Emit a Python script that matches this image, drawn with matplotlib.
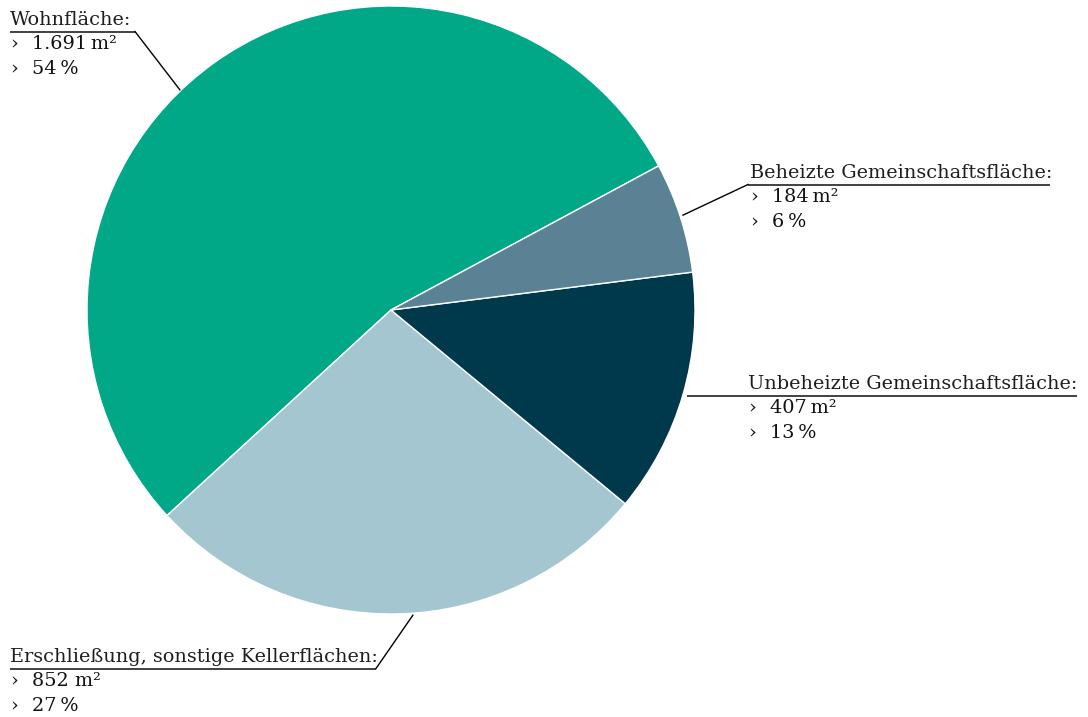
import numpy as np
import matplotlib
matplotlib.use("Agg")
import matplotlib.pyplot as plt

categories = ["Wohnfläche", "Erschließung, sonstige Kellerflächen",
              "Unbeheizte Gemeinschaftsfläche", "Beheizte Gemeinschaftsfläche"]
areas_m2 = [1691, 852, 407, 184]
area_labels = ["1.691\u2009m²", "852 m²", "407\u2009m²", "184\u2009m²"]
percent_labels = ["54\u2009%", "27\u2009%", "13\u2009%", "6\u2009%"]
colors = ["#00A887", "#A3C6D1", "#00394B", "#5B8294"]

W, H = 1088, 717
fig = plt.figure(figsize=(W / 100, H / 100), dpi=100)
ax = fig.add_axes([0, 0, 1, 1])

cx, cy, R = 391, H - 310, 304
wedges, _ = ax.pie(areas_m2, colors=colors, startangle=28.3, counterclock=True,
                   center=(cx, cy), radius=R, frame=True,
                   wedgeprops=dict(edgecolor="white", linewidth=1.0))
ax.set_xlim(0, W)
ax.set_ylim(0, H)
ax.set_aspect("equal")
ax.axis("off")

FONT = "DejaVu Serif"
FS = 13.9

layout = [
    dict(tx=10, ty=25, ux0=10, ux1=135, ang=133.8, rr=305),
    dict(tx=10, ty=662, ux0=10, ux1=376, ang=-85.9, rr=306),
    dict(tx=748, ty=389, ux0=687, ux1=1077, ang=None, rr=None),
    dict(tx=750, ty=178, ux0=748, ux1=1050, ang=18.0, rr=307),
]

for i, L in enumerate(layout):
    tx, ty = L["tx"], L["ty"]
    ax.text(tx, H - ty, categories[i] + ":", fontsize=FS, family=FONT,
            color="#1e1e1e", ha="left", va="baseline")
    uy = H - (ty + 6.5)
    ax.plot([L["ux0"], L["ux1"]], [uy, uy], color="#333333", lw=1.3,
            solid_capstyle="butt")
    if L["ang"] is not None:
        a = np.deg2rad(L["ang"])
        px, py = cx + L["rr"] * np.cos(a), cy + L["rr"] * np.sin(a)
        ex = L["ux1"] if px > L["ux1"] else L["ux0"]
        ax.plot([ex, px], [uy, py], color="black", lw=1.0)
    for k, s in enumerate([area_labels[i], percent_labels[i]]):
        yy = H - (ty + 24 + 25 * k)
        ax.text(tx, yy, "\u203a", fontsize=FS, family=FONT, color="#111111",
                ha="left", va="baseline")
        ax.text(tx + 22, yy, s, fontsize=FS, family=FONT, color="#111111",
                ha="left", va="baseline")

fig.savefig("out.png", dpi=100)
